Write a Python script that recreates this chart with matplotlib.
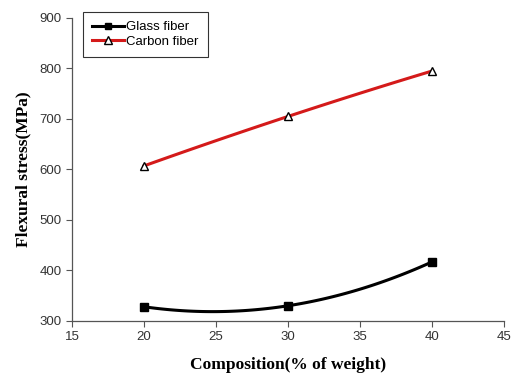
import numpy as np
import matplotlib.pyplot as plt

composition = [20, 30, 40]
glass_fiber = [328, 330, 417]
carbon_fiber = [607, 705, 795]
x_ticks = [15, 20, 25, 30, 35, 40, 45]
y_ticks = [300, 400, 500, 600, 700, 800, 900]


def smooth(x, y):
    # curve through the three points, like the spline line in the original
    c = np.polyfit(x, y, 2)
    xs = np.linspace(min(x), max(x), 100)
    return xs, np.polyval(c, xs)


fig = plt.figure(figsize=(5.14, 3.74), dpi=100)
ax = fig.add_axes([0.140, 0.142, 0.841, 0.810])

tick_font = {'family': 'Liberation Sans', 'size': 9.5}
label_font = {'family': 'Liberation Serif', 'weight': 'bold', 'size': 12.5}

xs, ys = smooth(composition, glass_fiber)
ax.plot(xs, ys, color='black', lw=2.2, zorder=2)
ax.plot(composition, glass_fiber, ls='none', marker='s', ms=5.5,
        mfc='black', mec='black', zorder=3)

xs, ys = smooth(composition, carbon_fiber)
ax.plot(xs, ys, color='#d41a1a', lw=2.2, zorder=2)
ax.plot(composition, carbon_fiber, ls='none', marker='^', ms=6,
        mfc='white', mec='black', mew=1.0, zorder=3)

# legend entries
h1, = ax.plot([], [], color='black', lw=2.2, marker='s', ms=5, mfc='black', mec='black')
h2, = ax.plot([], [], color='#d41a1a', lw=2.2, marker='^', ms=5.5, mfc='white', mec='black')
leg = ax.legend([h1, h2], ['Glass fiber', 'Carbon fiber'], loc='upper left',
                bbox_to_anchor=(0.025, 1.02), borderaxespad=0, prop=tick_font,
                frameon=True, fancybox=False, edgecolor='black', handlelength=2.4,
                borderpad=0.7, labelspacing=0.18, handletextpad=0.2)
leg.get_frame().set_linewidth(0.8)

ax.set_xlim(15, 45)
ax.set_ylim(300, 900)
ax.set_xticks(x_ticks)
ax.set_yticks(y_ticks)
ax.set_xticklabels([str(v) for v in x_ticks], fontdict=tick_font)
ax.set_yticklabels([str(v) for v in y_ticks], fontdict=tick_font)
ax.tick_params(direction='out', length=4, width=0.8, colors='#555555', labelcolor='#333333')

for side in ['top', 'right']:
    ax.spines[side].set_visible(False)
for side in ['left', 'bottom']:
    ax.spines[side].set_color('#555555')
    ax.spines[side].set_linewidth(0.9)

ax.set_xlabel('Composition(% of weight)', fontdict=label_font, labelpad=10)
ax.set_ylabel('Flexural stress(MPa)', fontdict=label_font, labelpad=6)

fig.savefig('out.png', dpi=100)
